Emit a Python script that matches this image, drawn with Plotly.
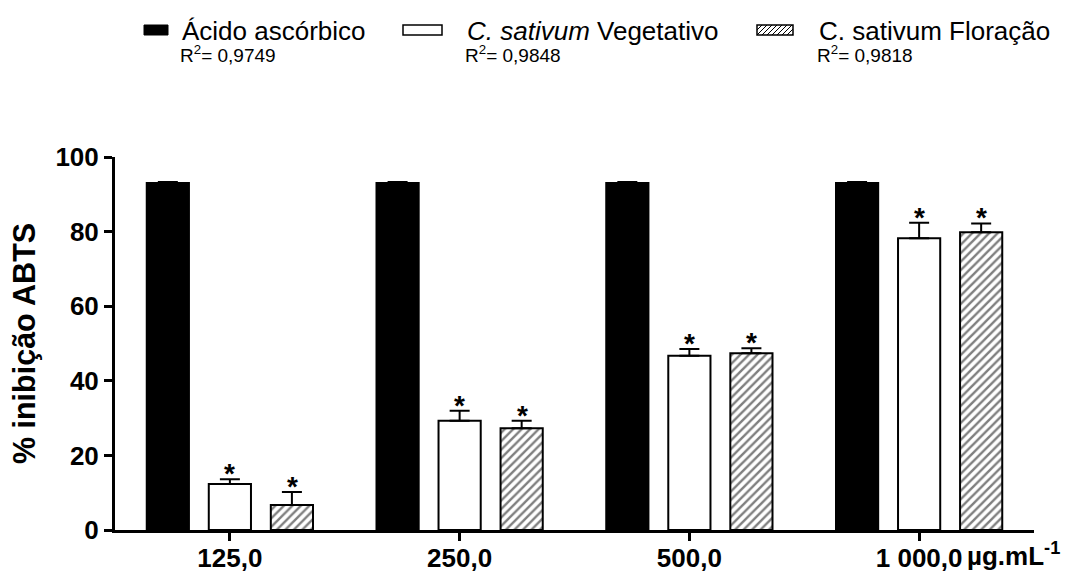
import plotly.graph_objects as go

categories = ["125,0", "250,0", "500,0", "1 000,0"]
unit_label = "µg.mL<sup>-1</sup>"
y_ticks = [0, 20, 40, 60, 80, 100]
acido = [93.0, 93.0, 93.0, 93.0]
acido_err = [0.3, 0.3, 0.3, 0.3]
veg = [12.3, 29.3, 46.7, 78.2]
veg_err = [1.3, 2.7, 1.8, 4.2]
flo = [6.7, 27.3, 47.4, 79.8]
flo_err = [3.5, 2.0, 1.3, 2.4]
legend_names = ["Ácido ascórbico", "<i>C. sativum</i> Vegetativo", "C. sativum Floração"]
legend_r2 = ["R<sup>2</sup>= 0,9749", "R<sup>2</sup>= 0,9848", "R<sup>2</sup>= 0,9818"]

FONT = "Liberation Sans, Arial, Helvetica, sans-serif"
W, H = 1066, 576
ML, MR, MT, MB = 115, 32, 157, 46
PW, PH = W - ML - MR, H - MT - MB


def px(x):
    return (x - ML) / PW


def py(y):
    return (H - MB - y) / PH


x_idx = list(range(len(categories)))
fig = go.Figure()


def err(vals):
    return dict(type="data", symmetric=False, array=vals, arrayminus=[0] * len(vals),
                color="black", thickness=2, width=10)


fig.add_trace(go.Bar(x=x_idx, y=acido, error_y=err(acido_err), name=legend_names[0],
                     marker=dict(color="black", line=dict(color="black", width=2))))
fig.add_trace(go.Bar(x=x_idx, y=veg, error_y=err(veg_err), name=legend_names[1],
                     marker=dict(color="white", line=dict(color="black", width=2))))
fig.add_trace(go.Bar(x=x_idx, y=flo, error_y=err(flo_err), name=legend_names[2],
                     marker=dict(color="white", line=dict(color="black", width=2),
                                 pattern=dict(shape="/", fgcolor="black", bgcolor="white",
                                              size=6, solidity=0.4))))

annotations = []
bar_step = 62.5
for i in x_idx:
    for vals, errs, shift in ((veg, veg_err, 0), (flo, flo_err, bar_step)):
        annotations.append(dict(x=i, y=vals[i] + errs[i], xref="x", yref="y", text="<b>*</b>",
                                showarrow=False, xshift=shift, yshift=-12, yanchor="bottom",
                                font=dict(family=FONT, size=28, color="black")))

annotations.append(dict(x=x_idx[-1], y=0, xref="x", yref="paper", text="<b>" + unit_label + "</b>",
                        showarrow=False, xanchor="left", yanchor="top", xshift=46, yshift=-6,
                        font=dict(family=FONT, size=26, color="black")))

# legend (manual)
shapes = []
leg_swatch = [(144, 168), (403, 442), (757, 793)]
leg_text_x = [180, 465, 817]
for k in range(3):
    x0, x1 = leg_swatch[k]
    y0, y1 = 25, 35
    if k == 0:
        shapes.append(dict(type="rect", xref="paper", yref="paper", x0=px(x0), x1=px(x1),
                           y0=py(y1), y1=py(y0), fillcolor="black", line=dict(color="black", width=1)))
    else:
        shapes.append(dict(type="rect", xref="paper", yref="paper", x0=px(x0), x1=px(x1),
                           y0=py(y1), y1=py(y0), fillcolor="white", line=dict(color="black", width=1.5)))
    if k == 2:
        step = 5
        xs = x0 - (y1 - y0)
        while xs < x1:
            a0, b0 = xs, y1
            a1, b1 = xs + (y1 - y0), y0
            if a0 < x0:
                b0 = y1 - (x0 - a0)
                a0 = x0
            if a1 > x1:
                b1 = y0 + (a1 - x1)
                a1 = x1
            if a1 > a0:
                shapes.append(dict(type="line", xref="paper", yref="paper", x0=px(a0), y0=py(b0),
                                   x1=px(a1), y1=py(b1), line=dict(color="black", width=1)))
            xs += step
    annotations.append(dict(x=px(leg_text_x[k]), y=py(31), xref="paper", yref="paper",
                            text=legend_names[k], showarrow=False, xanchor="left", yanchor="middle",
                            font=dict(family=FONT, size=26, color="black")))
    annotations.append(dict(x=px(leg_text_x[k] - 2), y=py(54), xref="paper", yref="paper",
                            text=legend_r2[k], showarrow=False, xanchor="left", yanchor="middle",
                            font=dict(family=FONT, size=19, color="black")))

fig.update_layout(
    width=W, height=H, margin=dict(l=ML, r=MR, t=MT, b=MB, autoexpand=False),
    paper_bgcolor="white", plot_bgcolor="white",
    barmode="group", bargap=0.19, bargroupgap=0.32,
    showlegend=False,
    font=dict(family=FONT, color="black"),
    annotations=annotations, shapes=shapes,
    xaxis=dict(tickvals=x_idx, ticktext=["<b>%s</b>" % c for c in categories], range=[-0.5, 3.5],
               automargin=False, ticklabelstandoff=-5,
               showline=True, linecolor="black", linewidth=3, ticks="outside", ticklen=8,
               tickwidth=3, tickcolor="black", showgrid=False, zeroline=False,
               tickfont=dict(family=FONT, size=26, color="black")),
    yaxis=dict(range=[0, 100], tickvals=y_ticks, ticktext=["<b>%d</b>" % t for t in y_ticks],
               automargin=False, showline=True, linecolor="black",
               linewidth=3, ticks="outside", ticklen=8, tickwidth=3, tickcolor="black",
               showgrid=False, zeroline=False,
               tickfont=dict(family=FONT, size=26, color="black"),
               title=dict(text="<b>% inibição ABTS</b>", standoff=11,
                          font=dict(family=FONT, size=30.5, color="black"))),
)

fig.write_html("out.html", config={"displayModeBar": False},
               post_script="document.body.style.margin='0px';")
